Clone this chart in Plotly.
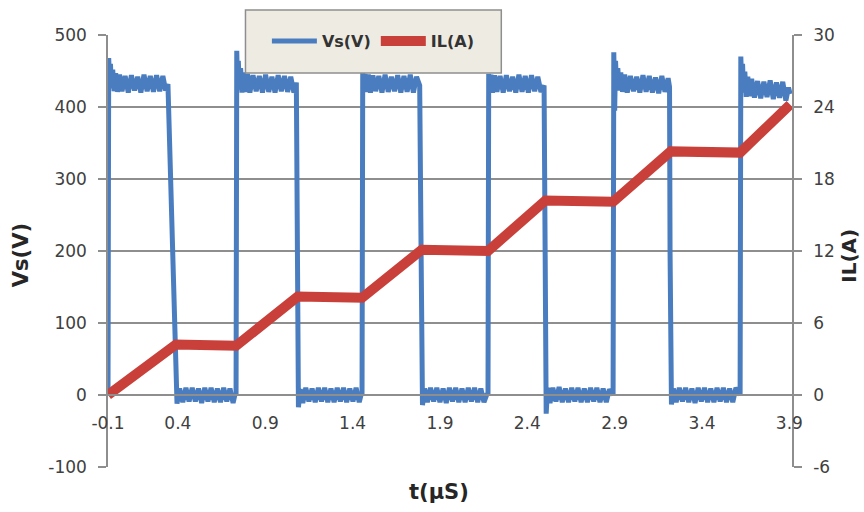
import plotly.graph_objects as go

# ---- switching node voltage Vs(V) vs time (µs) ----
VS_T = [
    # high 1
    0.000, 0.004, 0.009, 0.014, 0.020, 0.027, 0.035, 0.044, 0.054, 0.066, 0.080, 0.098, 0.116, 0.134,
    0.152, 0.170, 0.188, 0.206, 0.224, 0.242, 0.260, 0.278, 0.296, 0.314, 0.330, 0.343, 0.389,
    # low 1
    0.395, 0.410, 0.428, 0.446, 0.464, 0.482, 0.500, 0.518, 0.536, 0.554, 0.572, 0.590, 0.608, 0.626,
    0.644, 0.662, 0.680, 0.698, 0.716, 0.728,
    # high 2
    0.733, 0.737, 0.741, 0.746, 0.752, 0.759, 0.767, 0.776, 0.786, 0.798, 0.812, 0.830, 0.848, 0.866,
    0.884, 0.902, 0.920, 0.938, 0.956, 0.974, 0.992, 1.010, 1.028, 1.046, 1.064, 1.078, 1.082,
    # low 2
    1.090, 1.100, 1.115, 1.132, 1.150, 1.168, 1.186, 1.204, 1.222, 1.240, 1.258, 1.276, 1.294, 1.312,
    1.330, 1.348, 1.366, 1.384, 1.402, 1.420, 1.438, 1.450,
    # high 3
    1.454, 1.458, 1.464, 1.471, 1.480, 1.490, 1.502, 1.516, 1.532, 1.550, 1.568, 1.586, 1.604, 1.622,
    1.640, 1.658, 1.676, 1.694, 1.712, 1.730, 1.748, 1.766, 1.784, 1.792,
    # low 3
    1.800, 1.812, 1.828, 1.846, 1.864, 1.882, 1.900, 1.918, 1.936, 1.954, 1.972, 1.990, 2.008, 2.026,
    2.044, 2.062, 2.080, 2.098, 2.116, 2.134, 2.152, 2.170,
    # high 4
    2.175, 2.179, 2.185, 2.192, 2.201, 2.212, 2.226, 2.244, 2.262, 2.280, 2.298, 2.316, 2.334, 2.352,
    2.370, 2.388, 2.406, 2.424, 2.442, 2.460, 2.478, 2.496, 2.501,
    # low 4
    2.508, 2.516, 2.530, 2.546, 2.564, 2.582, 2.600, 2.618, 2.636, 2.654, 2.672, 2.690, 2.708, 2.726,
    2.744, 2.762, 2.780, 2.798, 2.816, 2.834, 2.852, 2.870, 2.886,
    # high 5
    2.891, 2.895, 2.900, 2.905, 2.911, 2.918, 2.926, 2.935, 2.945, 2.957, 2.972, 2.990, 3.008, 3.026,
    3.044, 3.062, 3.080, 3.098, 3.116, 3.134, 3.152, 3.170, 3.188, 3.206, 3.214, 3.217,
    # low 5
    3.225, 3.236, 3.252, 3.270, 3.288, 3.306, 3.324, 3.342, 3.360, 3.378, 3.396, 3.414, 3.432, 3.450,
    3.468, 3.486, 3.504, 3.522, 3.540, 3.558, 3.576, 3.594, 3.612,
    # high 6
    3.618, 3.622, 3.627, 3.632, 3.638, 3.645, 3.653, 3.662, 3.672, 3.684, 3.700, 3.718, 3.736, 3.754,
    3.772, 3.790, 3.808, 3.826, 3.844, 3.862, 3.880, 3.895, 3.904,
]
VS_V = [
    # high 1
    0, 468, 436, 460, 426, 452, 422, 447, 421, 445, 422, 443, 420, 444,
    423, 442, 420, 445, 422, 443, 421, 444, 422, 443, 423, 432, 5,
    # low 1
    -12, 9, -10, 10, -9, 10, -9, 9, -11, 10, -9, 10, -10, 9,
    -10, 10, -9, 9, -11, 2,
    # high 2
    0, 478, 432, 464, 424, 454, 420, 448, 421, 446, 420, 444, 422, 443,
    420, 445, 421, 442, 420, 444, 422, 443, 421, 442, 420, 434, 200,
    # low 2
    -17, 8, -11, 10, -9, 9, -10, 10, -9, 10, -10, 9, -10, 10,
    -9, 10, -10, 9, -9, 10, -10, 2,
    # high 3
    0, 448, 424, 446, 421, 445, 420, 444, 422, 443, 420, 445, 421, 442,
    422, 444, 420, 443, 421, 445, 420, 442, 430, 200,
    # low 3
    -14, 9, -10, 10, -9, 10, -10, 9, -11, 10, -9, 10, -10, 9,
    -10, 10, -9, 10, -10, 9, -10, 2,
    # high 4
    0, 446, 423, 445, 420, 444, 421, 443, 420, 444, 422, 442, 420, 445,
    421, 443, 420, 444, 422, 442, 421, 430, 200,
    # low 4
    -26, 10, -11, 10, -9, 11, -10, 9, -10, 10, -9, 10, -10, 9,
    -10, 10, -9, 10, -10, 9, -10, 8, 0,
    # high 5
    0, 476, 395, 464, 428, 454, 423, 448, 421, 445, 420, 443, 422, 442,
    420, 444, 421, 443, 420, 441, 419, 443, 421, 440, 428, 200,
    # low 5
    -13, 9, -10, 10, -9, 10, -10, 9, -11, 10, -9, 10, -10, 9,
    -10, 10, -9, 10, -10, 9, -10, 10, 1,
    # high 6
    0, 470, 432, 460, 420, 449, 414, 442, 415, 439, 413, 436, 412, 435,
    414, 437, 411, 434, 413, 435, 409, 427, 418,
]

# ---- inductor current IL(A) ----
IL_T = [0.000, 0.389, 0.733, 1.086, 1.454, 1.796, 2.175, 2.504, 2.891, 3.221, 3.618, 3.904]
IL_A = [0.0, 4.2, 4.1, 8.2, 8.1, 12.1, 12.0, 16.2, 16.1, 20.3, 20.2, 24.2]

# ---- axis labels ----
X_TICK_POS = [0.0, 0.4, 0.9, 1.4, 1.9, 2.4, 2.9, 3.4, 3.9]
X_TICK_LABELS = ["-0.1", "0.4", "0.9", "1.4", "1.9", "2.4", "2.9", "3.4", "3.9"]
X_MARK_POS = [0.9, 2.4, 3.9]
VS_TICKS = [-100, 0, 100, 200, 300, 400, 500]
IL_TICKS = [-6, 0, 6, 12, 18, 24, 30]

BLUE = "#4A7DC0"
RED = "#C9403A"
GRID = "#8E8E8E"
TXT = "#404040"
FONT = "DejaVu Sans"
X_RANGE = [0.0, 3.915]

fig = go.Figure()
fig.add_trace(go.Scatter(x=VS_T, y=VS_V, mode="lines", name="<b>Vs(V)</b>",
                         line=dict(color=BLUE, width=5), yaxis="y", xaxis="x"))
fig.add_trace(go.Scatter(x=IL_T, y=IL_A, mode="lines", name="<b>IL(A)</b>",
                         line=dict(color=RED, width=10), yaxis="y2", xaxis="x"))

fig.update_layout(
    width=864, height=512,
    margin=dict(l=108, r=72, t=35, b=45),
    paper_bgcolor="white", plot_bgcolor="white",
    font=dict(family=FONT, size=17, color=TXT),
    showlegend=True,
    legend=dict(orientation="h", x=0.388, y=0.986, xanchor="center", yanchor="middle",
                bgcolor="rgba(0,0,0,0)", font=dict(size=16, color="#333333"),
                itemwidth=45),
    xaxis=dict(range=X_RANGE, anchor="free", position=1/6, showline=True, linecolor=GRID,
               linewidth=1.5, showgrid=False, zeroline=False, ticks="",
               tickvals=X_TICK_POS, ticktext=X_TICK_LABELS, ticklabelstandoff=13,
               automargin=False),
    xaxis2=dict(range=X_RANGE, overlaying="x", anchor="y", side="bottom", showline=True,
                mirror=True, linecolor=GRID, linewidth=1.5, showgrid=False, zeroline=False,
                showticklabels=False, ticks="", automargin=False),
    xaxis3=dict(range=X_RANGE, overlaying="x", anchor="free", position=1/6, showline=False,
                showgrid=False, zeroline=False, showticklabels=False, ticks="outside",
                tickvals=X_MARK_POS, ticklen=6, tickcolor=GRID, tickwidth=1.5, automargin=False),
    yaxis=dict(range=[-100, 500], tickvals=VS_TICKS, ticktext=[str(v) for v in VS_TICKS],
               showgrid=True, gridcolor=GRID,
               gridwidth=1.5, zeroline=False, showline=True, linecolor=GRID, linewidth=1.5,
               ticks="outside", ticklen=8, tickcolor=GRID, tickwidth=1.5, ticklabelstandoff=8,
               automargin=False),
    yaxis2=dict(range=[-6, 30], tickvals=IL_TICKS, ticktext=[str(v) for v in IL_TICKS],
                overlaying="y", side="right",
                showgrid=False, zeroline=False, showline=True, linecolor=GRID, linewidth=1.5,
                ticks="outside", ticklen=8, tickcolor=GRID, tickwidth=1.5, ticklabelstandoff=8,
                automargin=False),
    shapes=[dict(type="rect", xref="paper", yref="paper", x0=0.201, x1=0.575, y0=0.912, y1=1.058,
                 fillcolor="#EEECE2", line=dict(color="#8E8E8E", width=1.5), layer="above")],
    annotations=[
        dict(text="<b>Vs(V)</b>", xref="paper", yref="paper", x=-0.126, y=0.49, textangle=-90,
             xanchor="center", yanchor="middle",
             showarrow=False, font=dict(size=21, color="#262626")),
        dict(text="<b>IL(A)</b>", xref="paper", yref="paper", x=1.084, y=0.49, textangle=-90,
             xanchor="center", yanchor="middle",
             showarrow=False, font=dict(size=20, color="#262626")),
        dict(text="<b>t(µS)</b>", xref="paper", yref="paper", x=0.484, y=-0.058,
             xanchor="center", yanchor="middle",
             showarrow=False, font=dict(size=21, color="#262626")),
    ],
)

fig.write_html("out.html", config={"displayModeBar": False},
               post_script="document.body.style.margin='0';")
